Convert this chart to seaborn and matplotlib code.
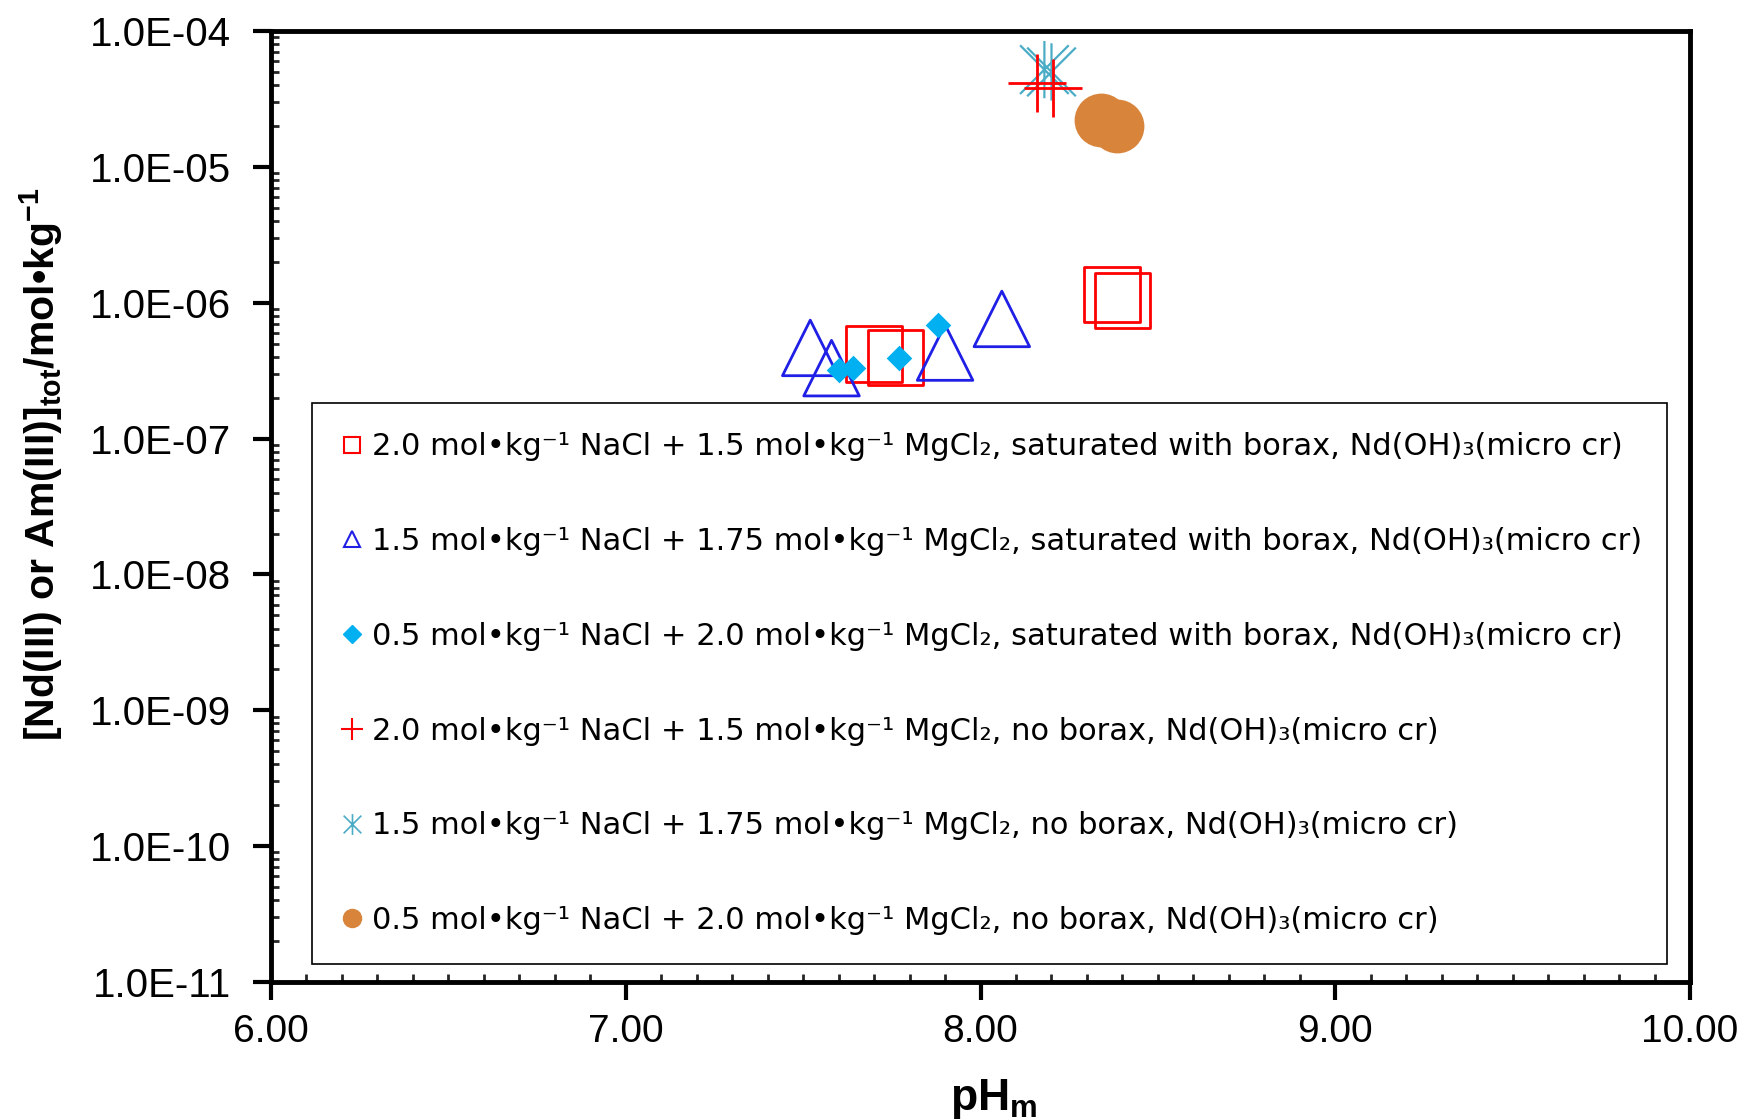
import matplotlib
matplotlib.use("Agg")
import matplotlib.pyplot as plt
import seaborn as sns
import numpy as np
from matplotlib.path import Path
from matplotlib.lines import Line2D
from matplotlib.ticker import FixedLocator, MultipleLocator, LogLocator, FuncFormatter, NullFormatter

sns.set_style("ticks")
plt.rcParams['font.family'] = ['Liberation Sans', 'DejaVu Sans']
plt.rcParams['mathtext.fontset'] = 'custom'
plt.rcParams['mathtext.rm'] = 'Liberation Sans'
plt.rcParams['mathtext.bf'] = 'Liberation Sans:bold'
plt.rcParams['mathtext.it'] = 'Liberation Sans:italic'
plt.rcParams['text.color'] = 'black'
plt.rcParams['axes.labelcolor'] = 'black'

# Данные
sq_ph = [7.70, 7.76, 8.37, 8.40]
sq_c = [4.2e-7, 3.95e-7, 1.15e-6, 1.04e-6]

tri_ph = [7.52, 7.58, 7.90, 8.06]
tri_c = [4.65e-7, 3.3e-7, 4.3e-7, 7.6e-7]

dia_ph = [7.60, 7.64, 7.77, 7.88]
dia_c = [3.2e-7, 3.3e-7, 3.95e-7, 6.9e-7]

plus_ph = [8.16, 8.205]
plus_c = [4.15e-5, 3.8e-5]

star_ph = [8.18, 8.20]
star_c = [5.2e-5, 5.0e-5]

circ_ph = [8.34, 8.385]
circ_c = [2.2e-5, 2.0e-5]

labels = [
    "2.0 mol•kg⁻¹ NaCl + 1.5 mol•kg⁻¹ MgCl₂, saturated with borax, Nd(OH)₃(micro cr)",
    "1.5 mol•kg⁻¹ NaCl + 1.75 mol•kg⁻¹ MgCl₂, saturated with borax, Nd(OH)₃(micro cr)",
    "0.5 mol•kg⁻¹ NaCl + 2.0 mol•kg⁻¹ MgCl₂, saturated with borax, Nd(OH)₃(micro cr)",
    "2.0 mol•kg⁻¹ NaCl + 1.5 mol•kg⁻¹ MgCl₂, no borax, Nd(OH)₃(micro cr)",
    "1.5 mol•kg⁻¹ NaCl + 1.75 mol•kg⁻¹ MgCl₂, no borax, Nd(OH)₃(micro cr)",
    "0.5 mol•kg⁻¹ NaCl + 2.0 mol•kg⁻¹ MgCl₂, no borax, Nd(OH)₃(micro cr)",
]

# звёздочка как в Excel: вертикаль + крест
star_marker = Path(
    [(0, -1), (0, 1), (-0.85, -0.85), (0.85, 0.85), (-0.85, 0.85), (0.85, -0.85)],
    [Path.MOVETO, Path.LINETO, Path.MOVETO, Path.LINETO, Path.MOVETO, Path.LINETO],
)

fig = plt.figure(figsize=(17.53, 11.2), dpi=100)
ax = fig.add_axes([0.1546, 0.1232, 0.8095, 0.8491])

sns.scatterplot(x=sq_ph, y=sq_c, ax=ax, marker='s', s=1600,
                facecolor='none', edgecolor='#FF0000', linewidth=2)
sns.scatterplot(x=tri_ph, y=tri_c, ax=ax, marker='^', s=1600,
                facecolor='none', edgecolor='#1F1FE6', linewidth=2)
sns.scatterplot(x=dia_ph, y=dia_c, ax=ax, marker='D', s=170,
                color='#00B0F0', edgecolor='#00B0F0', linewidth=0)
sns.scatterplot(x=star_ph, y=star_c, ax=ax, marker=star_marker, s=1700,
                facecolor='none', edgecolor='#4BACC6', linewidth=1.6)
sns.scatterplot(x=plus_ph, y=plus_c, ax=ax, marker='+', s=1800,
                color='#FF0000', linewidth=2)
sns.scatterplot(x=circ_ph, y=circ_c, ax=ax, marker='o', s=1500,
                color='#D9843B', edgecolor='#D9843B', linewidth=0)

ax.set_yscale('log')
ax.set_xlim(6, 10)
ax.set_ylim(1e-11, 1e-4)

ax.xaxis.set_major_locator(FixedLocator([6, 7, 8, 9, 10]))
ax.xaxis.set_minor_locator(MultipleLocator(0.1))
ax.xaxis.set_major_formatter(FuncFormatter(lambda v, p: f"{v:.2f}"))
ax.yaxis.set_major_locator(LogLocator(base=10, numticks=20))
ax.yaxis.set_minor_locator(LogLocator(base=10, subs=np.arange(2, 10), numticks=20))
ax.yaxis.set_major_formatter(FuncFormatter(lambda v, p: f"{v:.1E}"))
ax.yaxis.set_minor_formatter(NullFormatter())

ax.tick_params(axis='both', which='major', direction='out', length=13, width=3,
               labelsize=28, colors='black')
ax.tick_params(axis='x', which='major', pad=10)
ax.tick_params(axis='y', which='major', pad=16, labelsize=29)
ax.tick_params(axis='both', which='minor', direction='in', length=6, width=2)

for sp in ax.spines.values():
    sp.set_linewidth(3.5)
    sp.set_color('black')
    sp.set_visible(True)

ax.set_xlabel(r'$\mathbf{pH_m}$', fontsize=32)
ax.set_ylabel(r'$\mathbf{[Nd(III)\ or\ Am(III)]_{tot}/mol•kg^{-1}}$', fontsize=29.5)
ax.xaxis.set_label_coords(0.509, -0.1)
ax.yaxis.set_label_coords(-0.145, 0.545)

handles = [
    Line2D([], [], ls='none', marker='s', ms=11, mfc='none', mec='#FF0000', mew=1.5),
    Line2D([], [], ls='none', marker='^', ms=12, mfc='none', mec='#1F1FE6', mew=1.5),
    Line2D([], [], ls='none', marker='D', ms=9, mfc='#00B0F0', mec='#00B0F0'),
    Line2D([], [], ls='none', marker='+', ms=16, mec='#FF0000', mew=1.5),
    Line2D([], [], ls='none', marker=star_marker, ms=15, mfc='none', mec='#4BACC6', mew=1.2),
    Line2D([], [], ls='none', marker='o', ms=13, mfc='#D9843B', mec='#D9843B'),
]
leg = ax.legend(handles, labels, loc='lower left', bbox_to_anchor=(0.029, 0.019, 0.955, 0.587),
                mode='expand', prop={'family': 'DejaVu Sans', 'size': 22},
                frameon=True, fancybox=False, edgecolor='black', framealpha=1,
                labelspacing=2.15, handlelength=0.7, handletextpad=0.3,
                borderpad=0.95, borderaxespad=0, labelcolor='black')
leg.get_frame().set_linewidth(1.2)

fig.savefig('out.png', dpi=100)
plt.close(fig)
